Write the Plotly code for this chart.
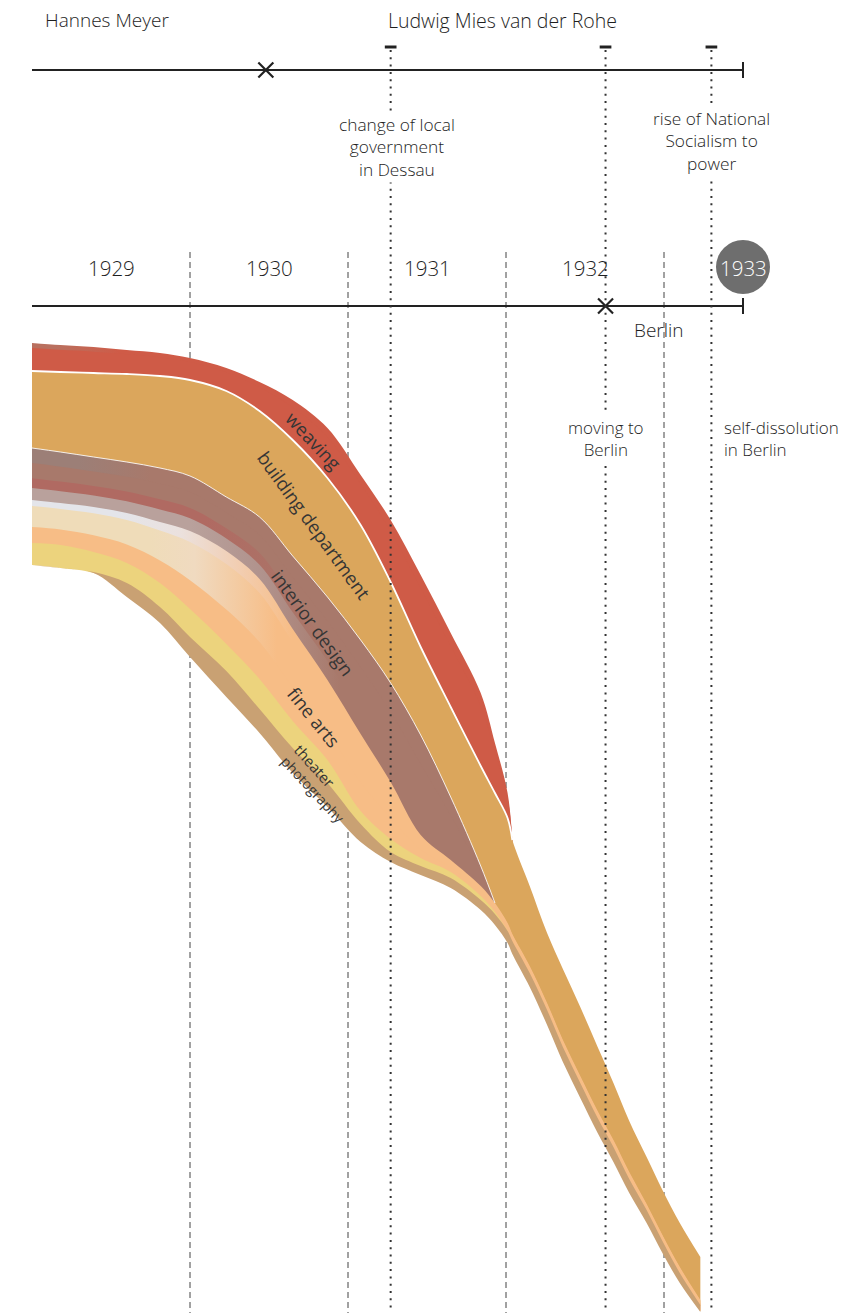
import numpy as np
import plotly.graph_objects as go

# ---------------- data ----------------
# sample dates (fractional years) along the stream
t = [1929.0, 1929.18, 1929.39, 1929.60, 1929.81, 1930.0, 1930.23, 1930.44, 1930.65, 1930.87,
     1931.08, 1931.27, 1931.46, 1931.65, 1931.84, 1931.93, 1932.01, 1932.04, 1932.15, 1932.26,
     1932.36, 1932.47, 1932.58, 1932.68, 1932.78, 1932.89, 1932.99, 1933.10, 1933.23]

# lower edge of the stream (drawing units, growing downwards)
baseline = [565, 568, 573, 597, 623, 657, 697, 733, 773, 807, 842, 862, 875, 888, 910, 925,
            943, 954, 987, 1025, 1062, 1098, 1133, 1162, 1193, 1223, 1253, 1283, 1312]

# department widths, stacked from the bottom of the stream upwards
photography = [0, 0, 1, 14, 16, 20, 26, 24, 25, 24, 18, 10, 9, 10, 10, 11,
               12, 13, 14, 15, 15, 15, 15, 15, 14, 13, 12, 10, 7]
theater = [22, 23, 20, 20, 24, 28, 27, 30, 27, 23, 13, 13, 8, 6, 4, 2,
           0, 0, 0, 0, 0, 0, 0, 0, 0, 0, 0, 0, 0]
fine_arts = [43, 42, 45, 50, 61, 78, 93, 100, 92, 80, 77, 57, 23, 12, 10, 9,
             8, 7, 7, 7, 7, 7, 7, 7, 7, 6, 6, 6, 5]
interior_design = [52, 51, 50, 51, 54, 55, 54, 62, 73, 83, 94, 99, 100, 63, 20, 0,
                   0, 0, 0, 0, 0, 0, 0, 0, 0, 0, 0, 0, 0]
building_department = [77, 80, 84, 88, 92, 96, 106, 106, 116, 119, 115, 101, 88, 90, 100, 110,
                       105, 94, 80, 70, 71, 69, 64, 57, 51, 47, 45, 44, 43]
weaving = [28, 27, 26, 24, 23, 22, 23, 29, 40, 50, 50, 62, 72, 74, 73, 50,
           25, 0, 0, 0, 0, 0, 0, 0, 0, 0, 0, 0, 0]

years = [1929, 1930, 1931, 1932, 1933]
timeline_start, timeline_end = 1929.0, 1933.5
director_change = 1930.48          # Meyer -> Mies van der Rohe
berlin_move = 1932.63
event_dates = [1931.27, 1932.63, 1933.30]

# ---------------- styling ----------------
FONT = "Open Sans"
INK = "#1e1e1e"
LABEL_INK = "#353535"
LINE = "#222222"

BROWN = "#a8796b"
ORANGE = "#f7bd86"
RED = "#cf5b47"

# per department: stripes listed top -> bottom as (share_top, colour, gradient);
# share_top is measured from the department's lower edge,
# gradient = (colorscale, start, stop) along the time axis
styles = {
    "weaving": [
        (1.00, "#b9705f", ([[0, "#b9705f"], [1, RED]], 1929.15, 1929.55)),
        (0.82, RED, None),
    ],
    "building department": [(1.0, "#dba65c", None)],
    "interior design": [
        (1.00, "#9c7f77", ([[0, "#9c7f77"], [1, BROWN]], 1929.30, 1929.75)),
        (0.71, BROWN, None),
        (0.42, "#b06a62", ([[0, "#b06a62"], [1, BROWN]], 1930.10, 1930.90)),
        (0.23, "#b9a19c", ([[0, "#b9a19c"], [0.5, "#b0928c"], [1, BROWN]], 1930.00, 1930.95)),
    ],
    "fine arts": [
        (1.00, "#e4e5ea", ([[0, "#e4e5ea"], [0.35, "#ebe1de"], [0.7, "#f2cdb0"], [1, ORANGE]],
                           1929.55, 1930.65)),
        (0.86, "#efdcb9", ([[0, "#efdcb9"], [0.35, "#f0dac0"], [1, ORANGE]], 1929.75, 1930.55)),
        (0.37, ORANGE, None),
    ],
    "theater": [(1.0, "#ecd37d", None)],
    "photography": [(1.0, "#c9a173", None)],
}

stack = [
    ("photography", photography),
    ("theater", theater),
    ("fine arts", fine_arts),
    ("interior design", interior_design),
    ("building department", building_department),
    ("weaving", weaving),
]

# band edges from the bottom up
T = np.array(t)
base = np.array(baseline, dtype=float)
edges = {}
level = base.copy()
for name, width in stack:
    w = np.array(width, dtype=float)
    edges[name] = (level.copy(), level - w, w)
    level = level - w

fig = go.Figure()
SPL = dict(width=0, shape="spline", smoothing=1.0)
OVERLAP = 6


def add_band(x, lower, upper, color, grad):
    fig.add_trace(go.Scatter(x=x, y=lower, mode="lines", line=SPL,
                             hoverinfo="skip", showlegend=False))
    kw = dict(fill="tonexty", fillcolor=color)
    if grad is not None:
        kw["fillgradient"] = dict(type="horizontal", colorscale=grad[0],
                                  start=grad[1], stop=grad[2])
    fig.add_trace(go.Scatter(x=x, y=upper, mode="lines", line=SPL,
                             hoverinfo="skip", showlegend=False, **kw))


# paint from the top department downwards; each band reaches a little into
# the one below it so neighbouring fills overlap without hairline seams
for name, _ in reversed(stack):
    bottom, top, w = edges[name]
    nz = np.nonzero(w)[0]
    n = min(len(t), nz.max() + 2)
    low = np.minimum(bottom + OVERLAP, base)
    for share, col, grad in styles[name]:
        add_band(T[:n], low[:n], (bottom - share * w)[:n], col, grad)

# thin light seams around the building department
bd_bottom, bd_top, _ = edges["building department"]
n_wv = int(np.nonzero(np.array(weaving))[0].max()) + 2
n_in = int(np.nonzero(np.array(interior_design))[0].max()) + 2
fig.add_trace(go.Scatter(x=T[:n_wv], y=bd_top[:n_wv], mode="lines",
                         line=dict(color="white", width=1.8, shape="spline", smoothing=1.0),
                         hoverinfo="skip", showlegend=False))
fig.add_trace(go.Scatter(x=T[:n_in], y=bd_bottom[:n_in], mode="lines",
                         line=dict(color="rgba(255,255,255,0.85)", width=1, shape="spline", smoothing=1.0),
                         hoverinfo="skip", showlegend=False))

# ---------------- timelines ----------------
Y_TOP, Y_MID = 70, 306
shapes = []
for yl in (Y_TOP, Y_MID):
    shapes.append(dict(type="line", x0=timeline_start, x1=timeline_end, y0=yl, y1=yl,
                       line=dict(color=LINE, width=2), layer="above"))
    shapes.append(dict(type="line", x0=timeline_end, x1=timeline_end, y0=yl - 8, y1=yl + 8,
                       line=dict(color=LINE, width=2), layer="above"))

# year boundaries (dashed, behind the stream)
for yb in years[1:]:
    shapes.append(dict(type="line", x0=yb, x1=yb, y0=252, y1=1313,
                       line=dict(color="#444444", width=1, dash="6px,4px"), layer="below"))

# events (dotted, in front of the stream) with a short bar on top
for ev in event_dates:
    shapes.append(dict(type="line", x0=ev, x1=ev, y0=50, y1=1313,
                       line=dict(color="#333333", width=2, dash="2px,5.3px"), layer="above"))
    shapes.append(dict(type="line", x0=ev - 0.037, x1=ev + 0.037, y0=47, y1=47,
                       line=dict(color=LINE, width=3), layer="above"))

# highlighted final year
R_PX = 27
PX_PER_YEAR = 158
shapes.append(dict(type="circle", x0=years[-1] + 0.5 - R_PX / PX_PER_YEAR,
                   x1=years[-1] + 0.5 + R_PX / PX_PER_YEAR, y0=267 - R_PX, y1=267 + R_PX,
                   fillcolor="#6e6e6e", line=dict(width=0), layer="above"))

fig.add_trace(go.Scatter(x=[director_change, berlin_move], y=[Y_TOP, Y_MID], mode="markers",
                         marker=dict(symbol="x-thin", size=15, line=dict(color=LINE, width=2.2)),
                         hoverinfo="skip", showlegend=False))

# ---------------- text ----------------
ann = []


def txt(x, y, s, size=17, color=INK, xanchor="center", angle=0, bg=None, align="center",
        weight=300):
    d = dict(x=x, y=y, text=s, showarrow=False, xanchor=xanchor, yanchor="middle",
             font=dict(family=FONT, size=size, color=color, weight=weight),
             textangle=angle, align=align)
    if bg:
        d["bgcolor"] = bg
    ann.append(d)


txt(1929.07, 20, "Hannes Meyer", size=19, xanchor="left")
txt(1931.975, 20, "Ludwig Mies van der Rohe", size=19.5)

txt(event_dates[0] + 0.04, 147, "change of local<br>government<br>in Dessau", size=17.3, bg="white")
txt(event_dates[2], 141, "rise of National<br>Socialism to<br>power", size=17.3, bg="white")
txt(event_dates[1], 438, "moving to<br>Berlin", bg="white")
txt(event_dates[2] + 0.07, 438, "self-dissolution<br>in Berlin", xanchor="left", align="left")

for yr in years:
    col = "white" if yr == years[-1] else INK
    txt(yr + 0.5, 268, str(yr), size=20.5, color=col)

txt(1932.97, 330, "Berlin", size=19)

band_labels = [
    ("weaving", 1930.785, 440, 47, 18.5),
    ("building department", 1930.79, 525, 54, 18.5),
    ("interior design", 1930.78, 622, 54, 18.5),
    ("fine arts", 1930.79, 717, 51, 18.5),
    ("theater", 1930.79, 766, 48, 15),
    ("photography", 1930.78, 789, 47, 14),
]
for s, x, y, a, sz in band_labels:
    txt(x, y, s, size=sz, color=LABEL_INK, angle=a, weight=400)

fig.update_layout(
    width=847, height=1313,
    margin=dict(l=0, r=0, t=0, b=0),
    paper_bgcolor="white", plot_bgcolor="white",
    xaxis=dict(range=[1929 - 32 / PX_PER_YEAR, 1929 + (847 - 32) / PX_PER_YEAR],
               visible=False, fixedrange=True),
    yaxis=dict(range=[1313, 0], visible=False, fixedrange=True),
    shapes=shapes, annotations=ann, showlegend=False,
)

fig.write_html("out.html", config={"displayModeBar": False})
